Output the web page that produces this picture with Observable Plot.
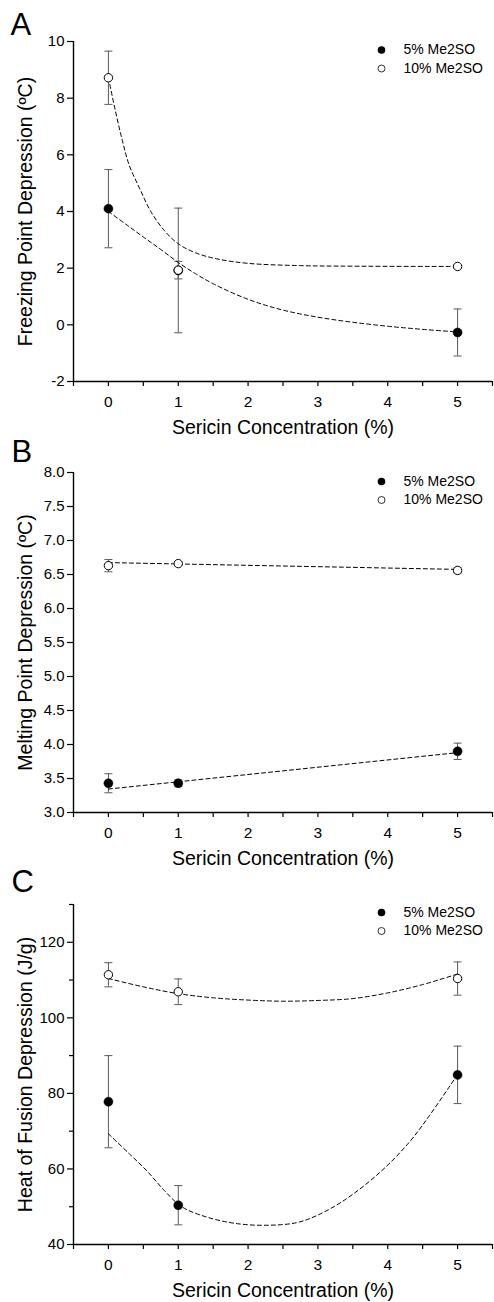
<!DOCTYPE html>
<html>
<head>
<meta charset="utf-8">
<script src="https://cdn.jsdelivr.net/npm/d3@7"></script>
<script src="https://cdn.jsdelivr.net/npm/@observablehq/plot@0.6"></script>
<style>
  html, body { margin: 0; padding: 0; background: #fff; }
  #chart { width: 494px; }
  #chart svg { display: block; }
</style>
</head>
<body>
<div id="chart"></div>
<script>
// ---------- data ----------
const conc = [0, 1, 5];
const seriesNames = ["5% Me2SO", "10% Me2SO"];
const xLabel = "Sericin Concentration (%)";
const xMajorTicks = [0, 1, 2, 3, 4, 5];
const xMinorTicks = [-0.5, 0.5, 1.5, 2.5, 3.5, 4.5, 5.5];

// Panel A – freezing point depression
const fpd5 = [4.1, 1.92, -0.27];
const fpd5Err = [1.38, 2.2, 0.83];
const fpd10 = [8.72, 1.93, 2.06];
const fpd10Err = [0.94, 0.31, 0.05];
const fpdFit5X = [0, 0.25, 0.5, 0.75, 1.0, 1.25, 1.5, 2.0, 2.5, 3.0, 3.5, 4.0, 4.5, 5.0];
const fpdFit5Y = [4.0, 3.55, 3.1, 2.66, 2.2, 1.8, 1.45, 0.9, 0.52, 0.27, 0.09, -0.05, -0.16, -0.25];
const fpdFit10X = [0, 0.1, 0.2, 0.3, 0.45, 0.6, 0.8, 1.0, 1.25, 1.55, 2.0, 2.75, 3.5, 5.0];
const fpdFit10Y = [8.72, 7.55, 6.5, 5.62, 4.8, 4.03, 3.33, 2.86, 2.54, 2.33, 2.17, 2.09, 2.07, 2.06];
const fpdTicks = [-2, 0, 2, 4, 6, 8, 10];

// Panel B – melting point depression
const mpd5 = [3.43, 3.43, 3.90];
const mpd5Err = [0.14, 0.05, 0.12];
const mpd10 = [6.63, 6.66, 6.56];
const mpd10Err = [0.09, 0.03, 0.04];
const mpdFit5X = [0, 5];
const mpdFit5Y = [3.345, 3.88];
const mpdFit10X = [0, 5];
const mpdFit10Y = [6.675, 6.575];
const mpdTicks = [3.0, 3.5, 4.0, 4.5, 5.0, 5.5, 6.0, 6.5, 7.0, 7.5, 8.0];

// Panel C – heat of fusion depression
const hfd5 = [77.8, 50.4, 84.9];
const hfd5Err = [12.2, 5.2, 7.6];
const hfd10 = [111.4, 106.9, 110.4];
const hfd10Err = [3.2, 3.4, 4.4];
const hfdFit5X = [0, 0.3, 0.55, 0.8, 1.05, 1.4, 1.85, 2.3, 2.7, 3.0, 3.4, 3.9, 4.3, 4.6, 5.0];
const hfdFit5Y = [69.3, 64.0, 59.5, 54.3, 50.0, 47.3, 45.5, 45.1, 45.8, 47.8, 52.0, 59.3, 66.9, 74.2, 85.0];
const hfdFit10X = [0, 0.5, 1.0, 1.5, 2.0, 2.5, 3.0, 3.5, 4.0, 4.5, 5.0];
const hfdFit10Y = [110.4, 108.2, 106.4, 105.3, 104.7, 104.4, 104.6, 105.1, 106.6, 108.8, 111.6];
const hfdTicks = [40, 60, 80, 100, 120];
const hfdMinorTicks = [50, 70, 90, 110, 130];

// ---------- helpers ----------
const FONT = "'Liberation Sans', Arial, Helvetica, sans-serif";
const zip = (xs, ys, es) => xs.map((x, i) => ({x, y: ys[i], e: es ? es[i] : 0}));
const pts = (xs, ys) => xs.map((x, i) => ({x, y: ys[i]}));
const capSymbol = {
  draw(ctx, size) {
    const r = Math.sqrt(size / Math.PI);
    ctx.moveTo(-r, 0);
    ctx.lineTo(r, 0);
  }
};

function panel(cfg) {
  const s5 = zip(conc, cfg.y5, cfg.e5);
  const s10 = zip(conc, cfg.y10, cfg.e10);
  const both = [...s5, ...s10];
  const errColor = "#5a5a5a";
  const marks = [
    // error bars
    Plot.ruleX(both, {x: "x", y1: d => d.y - d.e, y2: d => d.y + d.e, stroke: errColor, strokeWidth: 1}),
    Plot.dot(both, {x: "x", y: d => d.y + d.e, symbol: capSymbol, r: 4, stroke: errColor, strokeWidth: 1}),
    Plot.dot(both, {x: "x", y: d => d.y - d.e, symbol: capSymbol, r: 4, stroke: errColor, strokeWidth: 1}),
    // fitted curves
    Plot.line(pts(cfg.f5x, cfg.f5y), {x: "x", y: "y", curve: "catmull-rom", stroke: "#000", strokeWidth: 1, strokeDasharray: "4,3"}),
    Plot.line(pts(cfg.f10x, cfg.f10y), {x: "x", y: "y", curve: "catmull-rom", stroke: "#000", strokeWidth: 1, strokeDasharray: "4,3"}),
    // points
    Plot.dot(s5, {x: "x", y: "y", r: 4.5, fill: "#000", stroke: "#000", strokeWidth: 0.5}),
    Plot.dot(s10, {x: "x", y: "y", r: 4.2, fill: "#fff", stroke: "#000", strokeWidth: 1}),
    // axis lines
    Plot.ruleX([cfg.xDomain[0]], {stroke: "#000", strokeWidth: 1.4}),
    Plot.ruleY([cfg.yDomain[0]], {stroke: "#000", strokeWidth: 1.4}),
    // axes
    Plot.axisX(xMajorTicks, {label: null, tickSize: 5, tickPadding: 9, fontSize: 15.5, tickFormat: d => String(d), strokeWidth: 1.2}),
    Plot.axisX(xMinorTicks, {label: null, tickSize: 5, tickFormat: () => "", strokeWidth: 1.2}),
    Plot.axisY(cfg.yTicks, {label: null, tickSize: 6, tickPadding: 3, fontSize: 15, tickFormat: cfg.yFormat, strokeWidth: 1.2}),
    // axis titles
    Plot.text([xLabel], {text: d => d, frameAnchor: "bottom", dy: 46, fontSize: 19.5, textAnchor: "middle", lineAnchor: "middle"}),
    Plot.text([cfg.yLabel], {text: d => d, frameAnchor: "left", dx: -48, rotate: -90, fontSize: 19.5, textAnchor: "middle", lineAnchor: "middle"}),
    // panel letter
    Plot.text([cfg.letter], {text: d => d, frameAnchor: "top-left", dx: cfg.letterDx, dy: cfg.letterDy, fontSize: 31, textAnchor: "start", lineAnchor: "middle"}),
    // legend
    Plot.dot([seriesNames[0]], {frameAnchor: "top-left", dx: 308, dy: cfg.legDy, r: 3.8, fill: "#000"}),
    Plot.dot([seriesNames[1]], {frameAnchor: "top-left", dx: 308, dy: cfg.legDy + 18.5, r: 3.5, fill: "#fff", stroke: "#000", strokeWidth: 0.8}),
    Plot.text([seriesNames[0]], {text: d => d, frameAnchor: "top-left", dx: 330, dy: cfg.legDy, fontSize: 14, textAnchor: "start", lineAnchor: "middle"}),
    Plot.text([seriesNames[1]], {text: d => d, frameAnchor: "top-left", dx: 330, dy: cfg.legDy + 18.5, fontSize: 14, textAnchor: "start", lineAnchor: "middle"})
  ];
  if (cfg.yMinor) {
    marks.push(Plot.axisY(cfg.yMinor, {label: null, tickSize: 4, tickFormat: () => "", strokeWidth: 1.2}));
  }
  return Plot.plot({
    width: 494,
    height: cfg.height,
    marginLeft: 73,
    marginRight: 2,
    marginTop: cfg.mt,
    marginBottom: cfg.mb,
    style: {fontFamily: FONT, color: "#000", background: "#fff", overflow: "visible"},
    x: {domain: cfg.xDomain},
    y: {domain: cfg.yDomain},
    marks
  });
}

const root = document.getElementById("chart");
root.append(panel({
  letter: "A", letterDx: -63, letterDy: -16,
  height: 432, mt: 41, mb: 51,
  xDomain: [-0.5, 5.5], yDomain: [-2, 10], yTicks: fpdTicks, yFormat: d => String(d),
  yLabel: "Freezing Point Depression (ºC)",
  y5: fpd5, e5: fpd5Err, y10: fpd10, e10: fpd10Err,
  f5x: fpdFit5X, f5y: fpdFit5Y, f10x: fpdFit10X, f10y: fpdFit10Y,
  legDy: 8.5
}));
root.append(panel({
  letter: "B", letterDx: -62, letterDy: -20,
  height: 432, mt: 40, mb: 52,
  xDomain: [-0.5, 5.5], yDomain: [3, 8], yTicks: mpdTicks, yFormat: d3.format(".1f"),
  yLabel: "Melting Point Depression (ºC)",
  y5: mpd5, e5: mpd5Err, y10: mpd10, e10: mpd10Err,
  f5x: mpdFit5X, f5y: mpdFit5Y, f10x: mpdFit10X, f10y: mpdFit10Y,
  legDy: 9
}));
root.append(panel({
  letter: "C", letterDx: -62, letterDy: -22,
  height: 438, mt: 40, mb: 58,
  xDomain: [-0.5, 5.5], yDomain: [40, 130], yTicks: hfdTicks, yMinor: hfdMinorTicks, yFormat: d => String(d),
  yLabel: "Heat of Fusion Depression (J/g)",
  y5: hfd5, e5: hfd5Err, y10: hfd10, e10: hfd10Err,
  f5x: hfdFit5X, f5y: hfdFit5Y, f10x: hfdFit10X, f10y: hfdFit10Y,
  legDy: 8
}));
</script>
</body>
</html>
